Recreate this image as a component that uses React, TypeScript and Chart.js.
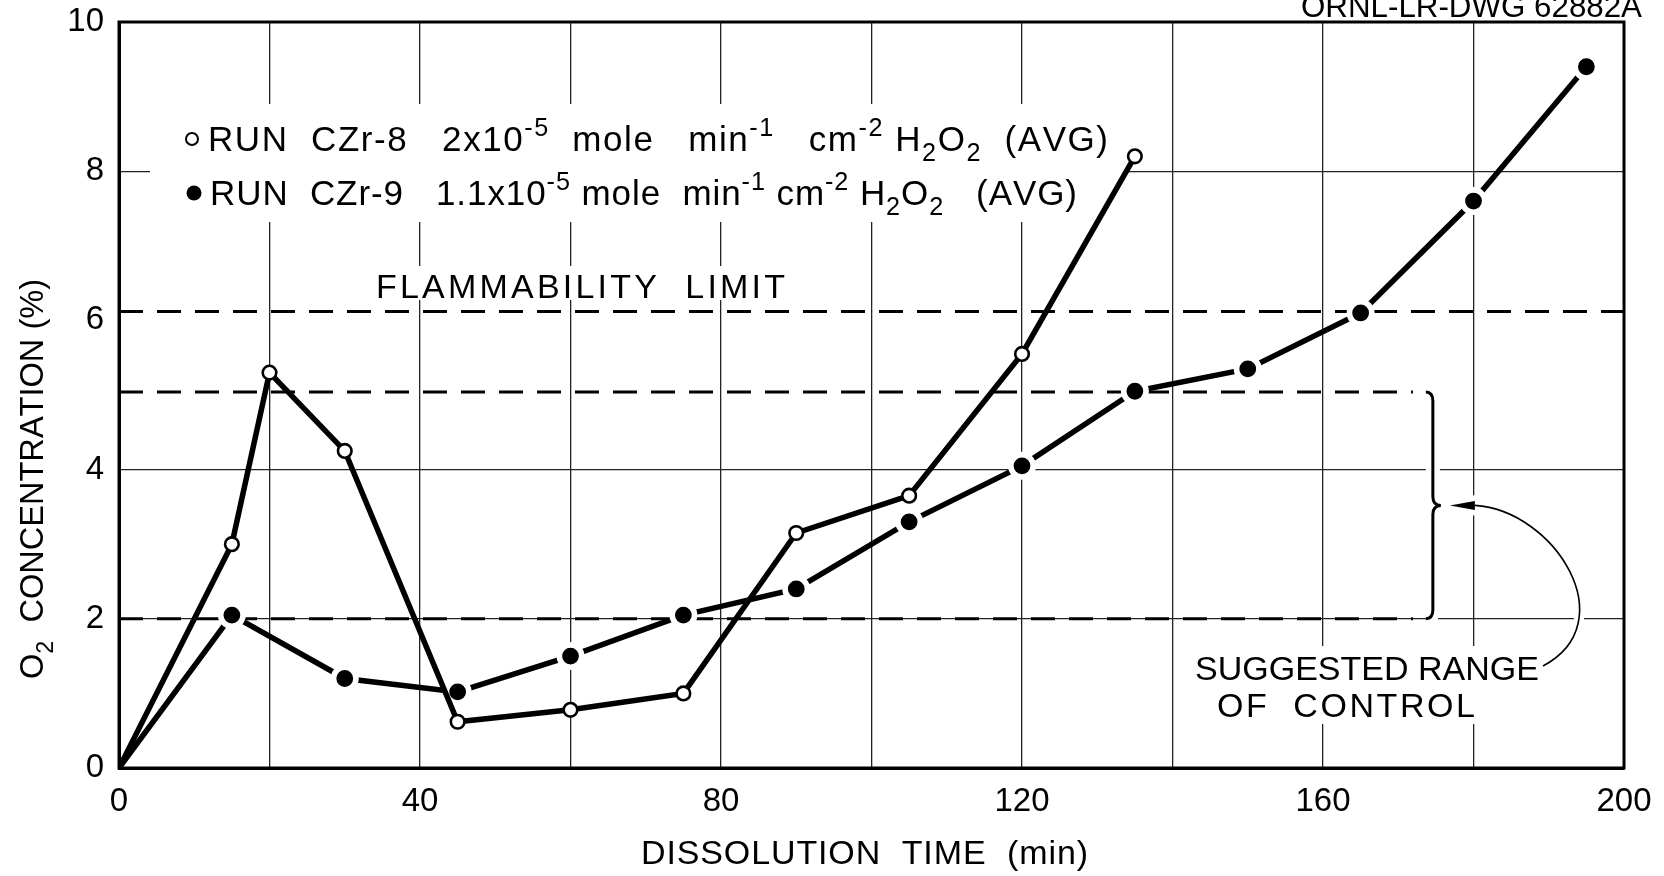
import { useEffect, useRef } from 'react';
import { Chart, registerables } from 'chart.js';

Chart.register(...registerables);

// ---- data ----
const runCZr8Time = [0, 15, 20, 30, 45, 60, 75, 90, 105, 120, 135];
const runCZr8O2 = [0, 3.0, 5.3, 4.25, 0.62, 0.78, 1.0, 3.15, 3.65, 5.55, 8.2];
const runCZr9Time = [0, 15, 30, 45, 60, 75, 90, 105, 120, 135, 150, 165, 180, 195];
const runCZr9O2 = [0, 2.05, 1.2, 1.02, 1.5, 2.05, 2.4, 3.3, 4.05, 5.05, 5.35, 6.1, 7.6, 9.4];
const xTickLabels = [0, 40, 80, 120, 160, 200];
const yTickLabels = [0, 2, 4, 6, 8, 10];
const flammabilityLimit = 6.12;
const controlRangeHigh = 5.04;
const controlRangeLow = 2.0;
const bracketTime = 174.6;

const FONT = "'Liberation Sans', Arial, Helvetica, sans-serif";

type Part = { t: string; s?: 'sup' | 'sub' };

function partFont(size: number, p: Part) {
  const sz = p.s ? size * 0.72 : size;
  return `${sz}px ${FONT}`;
}

function drawSpaced(ctx: CanvasRenderingContext2D, parts: Part[], x: number, y: number, targetW: number, size: number) {
  let natural = 0;
  let n = 0;
  for (const p of parts) {
    ctx.font = partFont(size, p);
    for (const ch of p.t) {
      natural += ctx.measureText(ch).width;
      n++;
    }
  }
  let scale = 1;
  let ls = 0;
  if (natural > targetW) scale = targetW / natural;
  else ls = (targetW - natural) / Math.max(1, n - 1);
  ctx.save();
  ctx.translate(x, y);
  ctx.scale(scale, 1);
  ctx.textAlign = 'left';
  ctx.textBaseline = 'alphabetic';
  let cx = 0;
  for (const p of parts) {
    ctx.font = partFont(size, p);
    const dy = p.s === 'sup' ? -size * 0.42 : p.s === 'sub' ? size * 0.28 : 0;
    for (const ch of p.t) {
      ctx.fillText(ch, cx, dy);
      cx += ctx.measureText(ch).width + ls;
    }
  }
  ctx.restore();
}

const legend1: Part[] = [
  { t: 'RUN  CZr-8   2x10' }, { t: '-5', s: 'sup' }, { t: '  mole   min' }, { t: '-1', s: 'sup' },
  { t: '   cm' }, { t: '-2', s: 'sup' }, { t: ' H' }, { t: '2', s: 'sub' }, { t: 'O' }, { t: '2', s: 'sub' },
  { t: '  (AVG)' },
];
const legend2: Part[] = [
  { t: 'RUN  CZr-9   1.1x10' }, { t: '-5', s: 'sup' }, { t: ' mole  min' }, { t: '-1', s: 'sup' },
  { t: ' cm' }, { t: '-2', s: 'sup' }, { t: ' H' }, { t: '2', s: 'sub' }, { t: 'O' }, { t: '2', s: 'sub' },
  { t: '   (AVG)' },
];

const annotationPlugin = {
  id: 'annotations',
  beforeDatasetsDraw(chart: any) {
    const { ctx, chartArea: a, scales } = chart;
    const xs = scales.x;
    const ys = scales.y;
    ctx.save();
    // knock-outs behind lettering
    ctx.fillStyle = '#fff';
    ctx.fillRect(150, 104, 975, 118);
    ctx.fillRect(365, 266, 430, 34);
    ctx.fillRect(1185, 646, 365, 78);

    // frame
    ctx.strokeStyle = '#000';
    ctx.lineWidth = 3;
    ctx.strokeRect(a.left, a.top, a.right - a.left, a.bottom - a.top);

    const bx = xs.getPixelForValue(bracketTime);
    const yTop = ys.getPixelForValue(controlRangeHigh);
    const yBot = ys.getPixelForValue(controlRangeLow);
    const yMid = (yTop + yBot) / 2;

    // dashed lines
    ctx.setLineDash([24, 14]);
    ctx.lineWidth = 3;
    ctx.lineCap = 'butt';
    const dash = (v: number, xEnd: number) => {
      const py = ys.getPixelForValue(v);
      ctx.beginPath();
      ctx.moveTo(a.left, py);
      ctx.lineTo(xEnd, py);
      ctx.stroke();
    };
    dash(flammabilityLimit, a.right);
    dash(controlRangeHigh, bx - 20);
    dash(controlRangeLow, bx - 20);
    ctx.setLineDash([]);

    // bracket with white halo
    const bracketPath = () => {
      ctx.beginPath();
      ctx.moveTo(bx - 7, yTop);
      ctx.quadraticCurveTo(bx, yTop, bx, yTop + 9);
      ctx.lineTo(bx, yMid - 9);
      ctx.quadraticCurveTo(bx, yMid, bx + 8, yMid);
      ctx.quadraticCurveTo(bx, yMid, bx, yMid + 9);
      ctx.lineTo(bx, yBot - 9);
      ctx.quadraticCurveTo(bx, yBot, bx - 7, yBot);
    };
    ctx.strokeStyle = '#fff';
    ctx.lineWidth = 14;
    bracketPath();
    ctx.stroke();
    ctx.strokeStyle = '#000';
    ctx.lineWidth = 3;
    bracketPath();
    ctx.stroke();

    // arrow curve
    const tipX = bx + 17;
    const headEnd = tipX + 25;
    const curvePath = () => {
      ctx.beginPath();
      ctx.moveTo(headEnd, yMid);
      ctx.bezierCurveTo(headEnd + 80, yMid + 5, headEnd + 150, yMid + 117, 1543, 666);
    };
    ctx.strokeStyle = '#fff';
    ctx.lineWidth = 10;
    curvePath();
    ctx.stroke();
    ctx.fillStyle = '#fff';
    ctx.fillRect(tipX - 4, yMid - 10, 32, 20);
    ctx.strokeStyle = '#000';
    ctx.lineWidth = 1.6;
    curvePath();
    ctx.stroke();
    ctx.fillStyle = '#000';
    ctx.beginPath();
    ctx.moveTo(tipX, yMid);
    ctx.lineTo(headEnd, yMid - 4.5);
    ctx.lineTo(headEnd, yMid + 4.5);
    ctx.closePath();
    ctx.fill();

    // lettering inside the plot
    ctx.fillStyle = '#000';
    drawSpaced(ctx, [{ t: 'FLAMMABILITY  LIMIT' }], 376, 298, 409, 34);
    drawSpaced(ctx, [{ t: 'SUGGESTED RANGE' }], 1195, 680, 344, 34);
    drawSpaced(ctx, [{ t: 'OF  CONTROL' }], 1217, 717, 258, 34);

    // legend
    ctx.strokeStyle = '#000';
    ctx.lineWidth = 2;
    ctx.fillStyle = '#fff';
    ctx.beginPath();
    ctx.arc(192, 139, 6, 0, Math.PI * 2);
    ctx.fill();
    ctx.stroke();
    ctx.fillStyle = '#000';
    ctx.beginPath();
    ctx.arc(194, 193, 7.5, 0, Math.PI * 2);
    ctx.fill();
    drawSpaced(ctx, legend1, 208, 151, 900, 35);
    drawSpaced(ctx, legend2, 210, 205, 867, 35);
    ctx.restore();
  },
  afterDraw(chart: any) {
    const { ctx } = chart;
    ctx.save();
    ctx.fillStyle = '#000';
    // y-axis title (rotated)
    ctx.save();
    ctx.translate(43, 679);
    ctx.rotate(-Math.PI / 2);
    drawSpaced(ctx, [{ t: 'O' }, { t: '2', s: 'sub' }, { t: '  CONCENTRATION (%)' }], 0, 0, 400, 34);
    ctx.restore();
    // x-axis title
    drawSpaced(ctx, [{ t: 'DISSOLUTION  TIME  (min)' }], 641, 864, 447, 34);
    // drawing number
    drawSpaced(ctx, [{ t: 'ORNL-LR-DWG 62882A' }], 1301, 17, 341, 32);
    ctx.restore();
  },
};

export default function App() {
  const canvasRef = useRef<HTMLCanvasElement | null>(null);

  useEffect(() => {
    document.body.style.margin = '0';
    document.body.style.overflow = 'hidden';
    const canvas = canvasRef.current;
    if (!canvas) return;
    const tickFont = { family: FONT, size: 33 };
    const chart = new Chart(canvas, {
      type: 'line',
      data: {
        datasets: [
          {
            label: 'RUN CZr-8',
            data: runCZr8Time.map((t, i) => ({ x: t, y: runCZr8O2[i] })),
            borderColor: '#000',
            borderWidth: 5.5,
            tension: 0,
            pointRadius: runCZr8Time.map((_, i) => (i === 0 ? 0 : 6.8)),
            pointBorderWidth: runCZr8Time.map((_, i) => (i === 0 ? 0 : 2.6)),
            pointBackgroundColor: '#fff',
            pointBorderColor: '#000',
            order: 0,
          },
          {
            label: 'RUN CZr-9',
            data: runCZr9Time.map((t, i) => ({ x: t, y: runCZr9O2[i] })),
            borderColor: '#000',
            borderWidth: 5.5,
            tension: 0,
            pointRadius: runCZr9Time.map((_, i) => (i === 0 ? 0 : 11.2)),
            pointBorderWidth: runCZr9Time.map((_, i) => (i === 0 ? 0 : 5.6)),
            pointBackgroundColor: '#000',
            pointBorderColor: '#fff',
            order: 1,
          },
        ],
      },
      options: {
        responsive: false,
        animation: false,
        devicePixelRatio: 1,
        events: [],
        layout: { padding: { top: 22, right: 40, left: 0, bottom: 0 } },
        plugins: { legend: { display: false }, tooltip: { enabled: false }, title: { display: false } },
        scales: {
          x: {
            type: 'linear',
            min: 0,
            max: 200,
            ticks: {
              stepSize: 20,
              autoSkip: false,
              maxRotation: 0,
              color: '#000',
              font: tickFont,
              padding: 14,
              callback: (v: any) => (xTickLabels.includes(Number(v)) ? String(v) : ''),
            },
            grid: { color: '#222', lineWidth: 1.3, drawTicks: false },
            border: { color: '#000', width: 3 },
            afterFit: (s: any) => {
              s.height = 108;
              s.paddingLeft = 0;
              s.paddingRight = 0;
            },
          },
          y: {
            type: 'linear',
            min: 0,
            max: 10,
            ticks: {
              stepSize: 2,
              color: '#000',
              font: tickFont,
              padding: 15,
              callback: (v: any) => (yTickLabels.includes(Number(v)) ? String(v) : ''),
            },
            grid: {
              color: (c: any) => (c.tick && c.tick.value === 6 ? 'rgba(0,0,0,0)' : '#222'),
              lineWidth: 1.3,
              drawTicks: false,
            },
            border: { color: '#000', width: 3 },
            afterFit: (s: any) => {
              s.width = 119;
              s.paddingTop = 0;
              s.paddingBottom = 0;
            },
          },
        },
      },
      plugins: [annotationPlugin],
    } as any);
    return () => chart.destroy();
  }, []);

  return (
    <div style={{ width: 1664, height: 876, background: '#fff' }}>
      <canvas ref={canvasRef} width={1664} height={876} style={{ display: 'block' }} />
    </div>
  );
}
